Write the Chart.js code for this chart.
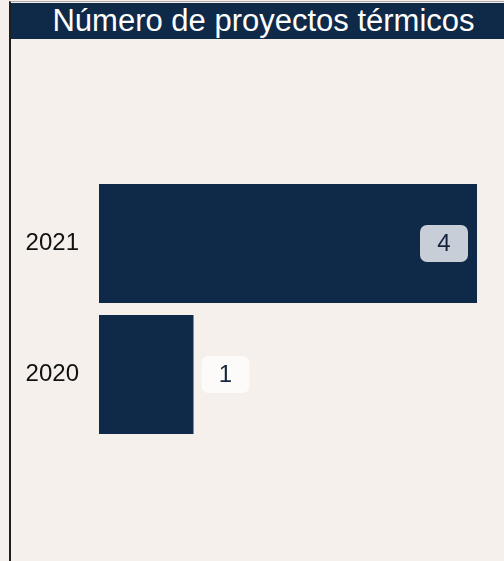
<!DOCTYPE html>
<html lang="es">
<head>
    <meta charset="UTF-8">
    <title>Número de proyectos térmicos</title>
    <script src="https://cdn.jsdelivr.net/npm/chart.js"></script>
    <style>
        html, body {margin:0; padding:0; width:504px; height:561px; overflow:hidden; background:#f5f0eb; font-family:'Liberation Sans', Arial, sans-serif;}
        .frame {position:absolute; left:9px; top:1px; width:495px; height:560px; border-left:2px solid #1f1f1f; border-top:1px solid #a9a9a9; box-sizing:border-box;}
        .title {position:absolute; left:11px; top:3px; width:493px; height:36px; padding-left:12px; box-sizing:border-box; background:#0f2948; color:#fff; font-size:31px; line-height:36px; text-align:center; white-space:nowrap;}
        .chart-box {position:absolute; left:12px; top:40px; width:492px; height:521px;}
    </style>
</head>
<body>
    <div class="frame"></div>
    <div class="title">Número de proyectos térmicos</div>
    <div class="chart-box"><canvas id="chart"></canvas></div>
    <script>
    const years = ['2021', '2020'];
    const projects = [4, 1];
    const labelBoxColors = ['#c8ced7', '#fdfbf9'];

    // value boxes drawn at the end of each bar (inside if they do not fit outside)
    const valueBoxes = {
        id: 'valueBoxes',
        afterDatasetsDraw(chart) {
            const ctx = chart.ctx;
            const meta = chart.getDatasetMeta(0);
            const w = 48, h = 37, r = 7;
            ctx.save();
            ctx.font = '24px "Liberation Sans", Arial, sans-serif';
            ctx.textAlign = 'center';
            ctx.textBaseline = 'middle';
            meta.data.forEach((bar, i) => {
                let left = bar.x + 8;
                if (left + w > chart.chartArea.right) left = bar.x - 9 - w;
                const top = bar.y - h / 2;
                ctx.fillStyle = labelBoxColors[i];
                ctx.beginPath();
                ctx.roundRect(left, top, w, h, r);
                ctx.fill();
                ctx.fillStyle = '#15243d';
                ctx.fillText(String(projects[i]), left + w / 2, bar.y + 1);
            });
            ctx.restore();
        }
    };

    new Chart(document.getElementById('chart'), {
        type: 'bar',
        data: {
            labels: years,
            datasets: [{
                data: projects,
                backgroundColor: '#0f2948',
                borderWidth: 0,
                categoryPercentage: 1,
                barPercentage: 0.91
            }]
        },
        options: {
            indexAxis: 'y',
            responsive: true,
            maintainAspectRatio: false,
            animation: false,
            layout: {padding: {top: 138, bottom: 121, right: 27, left: 0}},
            plugins: {legend: {display: false}, tooltip: {enabled: false}},
            scales: {
                x: {display: false, min: 0, max: 4},
                y: {
                    grid: {display: false, drawTicks: false},
                    border: {display: false},
                    ticks: {color: '#111', padding: 20, font: {size: 24, family: '"Liberation Sans", Arial, sans-serif'}},
                    afterFit(scale) { scale.width = 87; }
                }
            }
        },
        plugins: [valueBoxes]
    });
    </script>
</body>
</html>
